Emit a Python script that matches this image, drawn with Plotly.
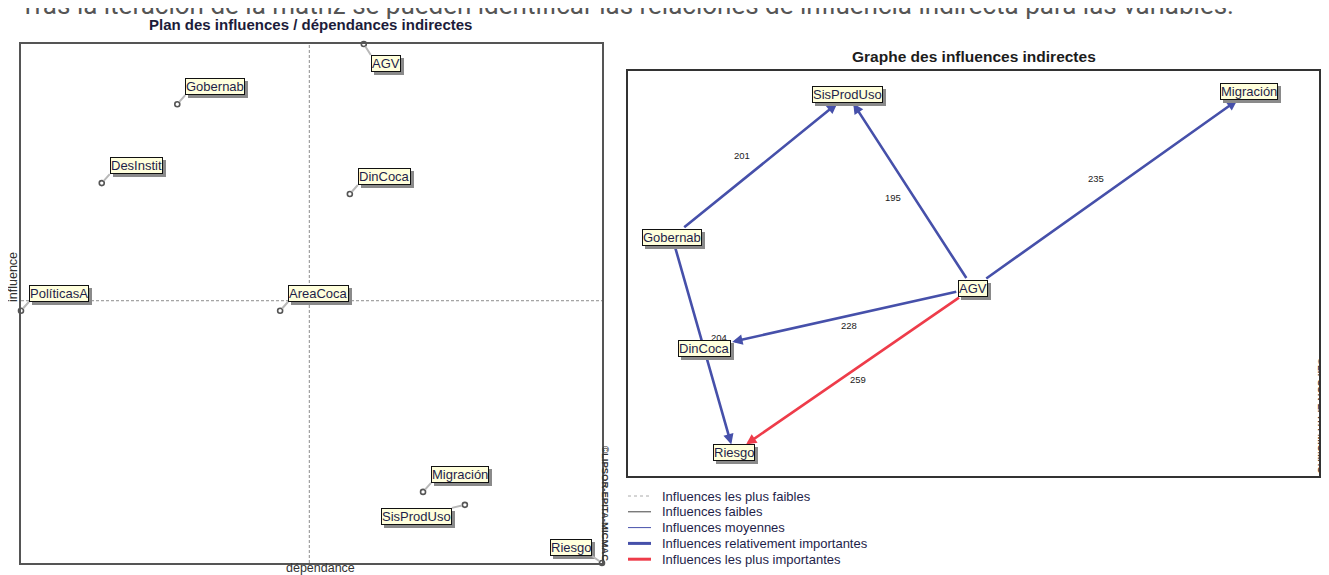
import plotly.graph_objects as go

W, H = 1329, 575
OFF = 8  # marge par défaut du <body>

# Plan des influences / dépendances indirectes (valeurs relatives)
variables = ["AGV", "Gobernab", "DesInstit", "DinCoca", "PolíticasA",
             "AreaCoca", "Migración", "SisProdUso", "Riesgo"]
dependance = [59.0, 26.9, 13.9, 56.6, 0.0, 44.6, 69.2, 76.4, 100.0]
influence = [100.0, 88.4, 73.2, 71.1, 48.6, 48.6, 13.7, 11.2, 0.0]

# Graphe des influences indirectes
nodes = ["SisProdUso", "Migración", "Gobernab", "AGV", "DinCoca", "Riesgo"]
node_x = [0.318, 0.899, 0.064, 0.499, 0.111, 0.153]
node_y = [0.059, 0.051, 0.410, 0.536, 0.684, 0.943]
edge_src = ["Gobernab", "AGV", "AGV", "AGV", "AGV", "Gobernab"]
edge_dst = ["SisProdUso", "SisProdUso", "Migración", "DinCoca", "Riesgo", "Riesgo"]
edge_val = [201, 195, 235, 228, 259, 204]
edge_cls = ["rel", "rel", "rel", "rel", "max", "rel"]

legend_labels = ["Influences les plus faibles", "Influences faibles",
                 "Influences moyennes", "Influences relativement importantes",
                 "Influences les plus importantes"]

# styles
FONT = "Liberation Sans, Arial, sans-serif"
TXT = "#1e1e4a"
BOX_BG = "#ffffdc"
SHADOW = "#8a8a8a"
BLUE = "#4650aa"
RED = "#ee3c4a"
edge_color = {"rel": BLUE, "max": RED}

# position des étiquettes (décalage en px, ancrage) dans le plan
label_pos = {
    "AGV": (7, 11, "left", "top"),
    "SisProdUso": (-13, 3, "right", "top"),
    "Riesgo": (-10, -7, "right", "bottom"),
}
label_default = (8, -9, "left", "bottom")
# décalage des valeurs sur les arcs (px)
edge_lbl_shift = [(-18, 10), (-17, -6), (-15, 11), (10, -7), (5, -9), (16, 7)]


def px(x):
    return (x - OFF) / W


def py(y):
    return 1 - (y - OFF) / H


L_X = [px(21), px(602)]
L_Y = [py(563), py(44)]
R_X = [px(628), px(1319)]
R_Y = [py(476), py(71)]
PX, PY = 691, 405

fig = go.Figure()

fig.add_trace(go.Scatter(
    x=dependance, y=influence, mode="markers", xaxis="x", yaxis="y",
    marker=dict(symbol="circle-open", size=5, color="#555", line=dict(width=1.6)),
    cliponaxis=False, hoverinfo="text", text=variables, showlegend=False))

ann = []
shapes = []

# axes moyens
mx = sum(dependance) / len(dependance)
my = sum(influence) / len(influence)
shapes.append(dict(type="line", xref="x", yref="y domain", x0=mx, x1=mx, y0=0, y1=1,
                   line=dict(color="#8c8c8c", width=1, dash="3px,2px")))
shapes.append(dict(type="line", xref="x domain", yref="y", x0=0, x1=1, y0=my, y1=my,
                   line=dict(color="#8c8c8c", width=1, dash="3px,2px")))

lbl_font = dict(family=FONT, size=13, color=TXT)
shd_font = dict(family=FONT, size=13, color=SHADOW)

for v, dx, iy in zip(variables, dependance, influence):
    ax, ay, xa, ya = label_pos.get(v, label_default)
    ann.append(dict(x=dx, y=iy, xref="x", yref="y", text=v, showarrow=False,
                    xanchor=xa, yanchor=ya, xshift=ax + 3, yshift=-ay - 3,
                    font=shd_font, bgcolor=SHADOW, bordercolor=SHADOW,
                    borderwidth=1, borderpad=0))
    ann.append(dict(x=dx, y=iy, xref="x", yref="y", text=v, showarrow=True,
                    ax=ax, ay=ay, arrowhead=0, arrowwidth=2, arrowcolor="#b8b8b8",
                    standoff=3, xanchor=xa, yanchor=ya, font=lbl_font,
                    bgcolor=BOX_BG, bordercolor="#111", borderwidth=1, borderpad=0))

# graphe
pos = {n: (x, y) for n, x, y in zip(nodes, node_x, node_y)}


def half_w(s):
    return (sum(8.7 if c.isupper() else 6.7 for c in s) + 4) / 2


def clip(a, b):
    (cx, cy), (tx, ty) = pos[a], pos[b]
    dx, dy = (tx - cx) * PX, (ty - cy) * PY
    t = min(half_w(a) / abs(dx) if dx else 1e9, 8.5 / abs(dy) if dy else 1e9)
    return cx + t * dx / PX, cy + t * dy / PY


for s, d, val, cls, (sx, sy) in zip(edge_src, edge_dst, edge_val, edge_cls, edge_lbl_shift):
    tx0, ty0 = clip(s, d)
    hx, hy = clip(d, s)
    ann.append(dict(x=hx, y=hy, xref="x2", yref="y2", ax=tx0, ay=ty0,
                    axref="x2", ayref="y2", text="", showarrow=True,
                    arrowhead=2, arrowsize=0.8, arrowwidth=2.6,
                    arrowcolor=edge_color[cls], standoff=0))
    mxn = (pos[s][0] + pos[d][0]) / 2
    myn = (pos[s][1] + pos[d][1]) / 2
    ann.append(dict(x=mxn, y=myn, xref="x2", yref="y2", text=str(val), showarrow=False,
                    xanchor="center", yanchor="middle", xshift=sx, yshift=sy,
                    font=dict(family=FONT, size=9.5, color="#222")))

for n in nodes:
    x, y = pos[n]
    ann.append(dict(x=x, y=y, xref="x2", yref="y2", text=n, showarrow=False,
                    xanchor="center", yanchor="middle", xshift=3, yshift=-3,
                    font=shd_font, bgcolor=SHADOW, bordercolor=SHADOW,
                    borderwidth=1, borderpad=0))
    ann.append(dict(x=x, y=y, xref="x2", yref="y2", text=n, showarrow=False,
                    xanchor="center", yanchor="middle", font=lbl_font, bgcolor=BOX_BG,
                    bordercolor="#111", borderwidth=1, borderpad=0))


def paper_text(x, y, text, font, xanchor="center", angle=0):
    ann.append(dict(x=px(x), y=py(y), xref="paper", yref="paper", text=text,
                    showarrow=False, xanchor=xanchor, yanchor="middle",
                    textangle=angle, font=font))


# titres et textes
paper_text(18, 5, "Tras la iteración de la matriz se pueden identificar las relaciones "
                  "de influencia indirecta para las variables.",
           dict(family="Roboto, sans-serif", size=26, color="#555"), xanchor="left")
paper_text(310, 24, "<b>Plan des influences / dépendances indirectes</b>",
           dict(family=FONT, size=15, color="#1c1c3a"))
paper_text(974, 57, "<b>Graphe des influences indirectes</b>",
           dict(family=FONT, size=15.5, color="#1c1c1c"))
paper_text(320, 568, "dépendance", dict(family=FONT, size=12.5, color="#333"))
paper_text(13, 277, "influence", dict(family=FONT, size=12.5, color="#333"), angle=-90)
for xc, yc in [(606, 503), (1322, 415)]:
    paper_text(xc, yc, "<b>©LIPSOR-EPITA-MICMAC</b>",
               dict(family=FONT, size=9.5, color="#333"), angle=90)

# légende
leg_styles = [dict(color="#aaaaaa", width=1, dash="dot"),
              dict(color="#444444", width=1),
              dict(color=BLUE, width=1),
              dict(color=BLUE, width=3),
              dict(color=RED, width=3)]
for i, (lab, st) in enumerate(zip(legend_labels, leg_styles)):
    yy = 496 + i * 15.8
    shapes.append(dict(type="line", xref="paper", yref="paper", x0=px(628), x1=px(651),
                       y0=py(yy), y1=py(yy), line=st))
    paper_text(660, yy, lab, dict(family=FONT, size=13, color=TXT), xanchor="left")

axis_common = dict(showgrid=False, zeroline=False, showticklabels=False, ticks="",
                   showline=True, mirror=True)

fig.update_layout(
    width=W, height=H, margin=dict(l=0, r=0, t=0, b=0),
    paper_bgcolor="white", plot_bgcolor="white", showlegend=False,
    xaxis=dict(domain=L_X, range=[min(dependance), max(dependance)],
               linecolor="#555", linewidth=1.5, **axis_common),
    yaxis=dict(domain=L_Y, range=[min(influence), max(influence)],
               linecolor="#555", linewidth=1.5, **axis_common),
    xaxis2=dict(domain=R_X, range=[0, 1], anchor="y2",
                linecolor="#333", linewidth=1.5, **axis_common),
    yaxis2=dict(domain=R_Y, range=[1, 0], anchor="x2",
                linecolor="#333", linewidth=1.5, **axis_common),
    annotations=ann, shapes=shapes,
)

fig.write_html("out.html")
